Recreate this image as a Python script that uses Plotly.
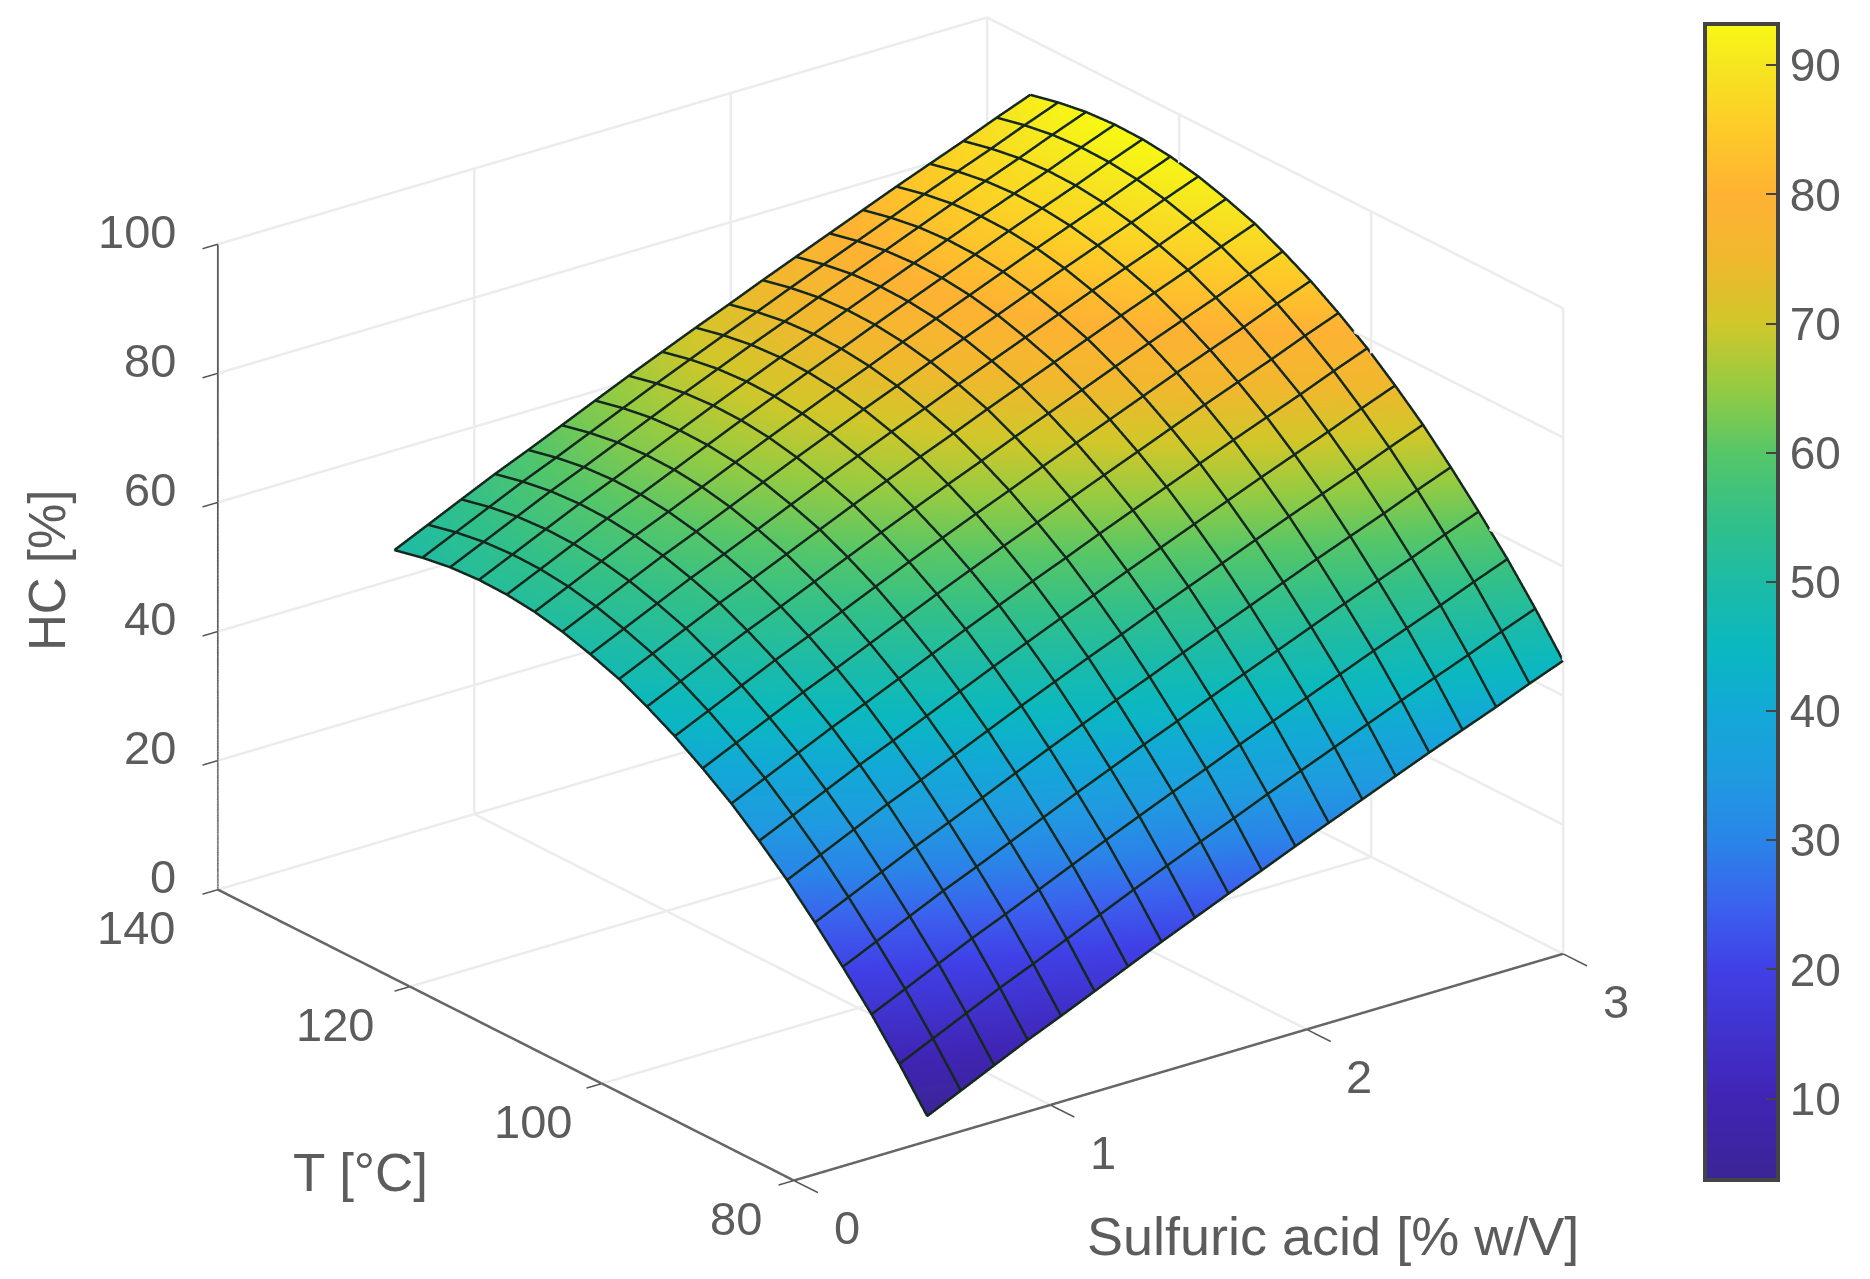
import plotly.graph_objects as go

acid = [0.52,0.651,0.781,0.912,1.042,1.173,1.303,1.434,1.564,1.695,1.825,1.956,2.086,2.217,2.347,2.478,2.608,2.739,2.869,3.0]
temp = [80,82.9,85.8,88.8,91.7,94.6,97.5,100.4,103.4,106.3,109.2,112.1,115.1,118.0,120.9,123.8,126.7,129.7,132.6,135.5]
hc = [
[3.7,6.1,8.5,10.9,13.1,15.4,17.7,20.0,22.2,24.4,26.5,28.7,30.8,32.9,35.0,37.1,39.1,41.1,43.2,45.2],
[9.6,12.0,14.4,16.8,19.0,21.3,23.6,25.9,28.1,30.3,32.4,34.6,36.7,38.8,40.9,43.0,45.0,47.0,49.1,51.1],
[15.1,17.5,19.9,22.3,24.5,26.8,29.1,31.4,33.6,35.8,37.9,40.1,42.2,44.3,46.4,48.5,50.5,52.5,54.6,56.6],
[20.2,22.6,25.0,27.4,29.6,31.9,34.2,36.5,38.7,40.9,43.0,45.2,47.3,49.4,51.5,53.6,55.6,57.6,59.7,61.7],
[24.9,27.3,29.7,32.1,34.3,36.6,38.9,41.2,43.4,45.6,47.7,49.9,52.0,54.1,56.2,58.3,60.3,62.3,64.4,66.4],
[29.3,31.7,34.1,36.5,38.7,41.0,43.3,45.6,47.8,50.0,52.1,54.3,56.4,58.5,60.6,62.7,64.7,66.7,68.8,70.8],
[33.2,35.6,38.0,40.4,42.6,44.9,47.2,49.5,51.7,53.9,56.0,58.2,60.3,62.4,64.5,66.6,68.6,70.6,72.7,74.7],
[36.8,39.2,41.6,44.0,46.2,48.5,50.8,53.1,55.3,57.5,59.6,61.8,63.9,66.0,68.1,70.2,72.2,74.2,76.3,78.3],
[40.0,42.4,44.8,47.2,49.4,51.7,54.0,56.3,58.5,60.7,62.8,65.0,67.1,69.2,71.3,73.4,75.4,77.4,79.5,81.5],
[42.8,45.2,47.6,50.0,52.2,54.5,56.8,59.1,61.3,63.5,65.6,67.8,69.9,72.0,74.1,76.2,78.2,80.2,82.3,84.3],
[45.2,47.6,50.0,52.4,54.6,56.9,59.2,61.5,63.7,65.9,68.0,70.2,72.3,74.4,76.5,78.6,80.6,82.6,84.7,86.7],
[47.3,49.7,52.1,54.5,56.7,59.0,61.3,63.6,65.8,68.0,70.1,72.3,74.4,76.5,78.6,80.7,82.7,84.7,86.8,88.8],
[48.9,51.3,53.7,56.1,58.3,60.6,62.9,65.2,67.4,69.6,71.7,73.9,76.0,78.1,80.2,82.3,84.3,86.3,88.4,90.4],
[50.2,52.6,55.0,57.4,59.6,61.9,64.2,66.5,68.7,70.9,73.0,75.2,77.3,79.4,81.5,83.6,85.6,87.6,89.7,91.7],
[51.1,53.5,55.9,58.3,60.5,62.8,65.1,67.4,69.6,71.8,73.9,76.1,78.2,80.3,82.4,84.5,86.5,88.5,90.6,92.6],
[51.6,54.0,56.4,58.8,61.0,63.3,65.6,67.9,70.1,72.3,74.4,76.6,78.7,80.8,82.9,85.0,87.0,89.0,91.1,93.1],
[51.7,54.1,56.5,58.9,61.1,63.4,65.7,68.0,70.2,72.4,74.5,76.7,78.8,80.9,83.0,85.1,87.1,89.1,91.2,93.2],
[51.4,53.8,56.2,58.6,60.8,63.1,65.4,67.7,69.9,72.1,74.2,76.4,78.5,80.6,82.7,84.8,86.8,88.8,90.9,92.9],
[50.7,53.1,55.5,57.9,60.1,62.4,64.7,67.0,69.2,71.4,73.5,75.7,77.8,79.9,82.0,84.1,86.1,88.1,90.2,92.2],
[49.7,52.1,54.5,56.9,59.1,61.4,63.7,66.0,68.2,70.4,72.5,74.7,76.8,78.9,81.0,83.1,85.1,87.1,89.2,91.2],
]
x_ticks = [0,1,2,3]
y_ticks = [80,100,120,140]
z_ticks = [0,20,40,60,80,100]
colorbar_ticks = [10,20,30,40,50,60,70,80,90]
parula_stops = [
[0,"#3a2596"],[0.07,"#4024b4"],[0.182,"#4040e6"],[0.238,"#3b62ee"],[0.294,"#2a85e8"],
[0.35,"#1f9be0"],[0.406,"#12a9d6"],[0.461,"#0bb8c0"],[0.517,"#1dbba6"],[0.573,"#33c088"],
[0.629,"#56c668"],[0.685,"#95cb42"],[0.741,"#d0c72a"],[0.797,"#f0b82e"],[0.853,"#ffb233"],
[0.91,"#fdcb28"],[0.965,"#f6e620"],[1,"#f8f814"]]

TXT = "#5c5c5c"
FONT = "Liberation Sans"
W, H = 1870, 1279
MESH = "#14281e"
LIFT = 0.2
x0, x1 = x_ticks[0], x_ticks[-1]
y0, y1 = y_ticks[0], y_ticks[-1]
z0, z1 = z_ticks[0], z_ticks[-1]

fig = go.Figure(go.Surface(
    x=acid, y=temp, z=hc, cmin=3.7, cmax=93.2, colorscale=parula_stops,
    lighting=dict(ambient=1, diffuse=0, specular=0, roughness=1, fresnel=0),
    hoverinfo="skip",
    colorbar=dict(
        x=1705/W, xanchor="left", y=(1279-1180)/H, yanchor="bottom",
        lenmode="pixels", len=1156, thicknessmode="pixels", thickness=73,
        tickvals=colorbar_ticks, ticks="inside", ticklen=14, tickcolor="#444", tickwidth=2,
        outlinecolor="#444", outlinewidth=4, tickfont=dict(family=FONT, size=46, color=TXT),
        xpad=0, ypad=0),
))

def lines(segments, color, width):
    for a, b in segments:
        fig.add_trace(go.Scatter3d(x=[a[0], b[0]], y=[a[1], b[1]], z=[a[2], b[2]], mode="lines",
                                   line=dict(color=color, width=width),
                                   hoverinfo="skip", showlegend=False))

# gridlines on the floor and the two back walls
grid = []
for v in x_ticks:
    grid += [((v, y0, z0), (v, y1, z0)), ((v, y1, z0), (v, y1, z1))]
for v in y_ticks:
    grid += [((x0, v, z0), (x1, v, z0)), ((x1, v, z0), (x1, v, z1))]
for v in z_ticks:
    grid += [((x0, y1, v), (x1, y1, v)), ((x1, y0, v), (x1, y1, v))]
lines(grid, "#ececec", 5)

# axis lines and their tick stubs
lines([((x0, y0, z0), (x1, y0, z0)), ((x0, y0, z0), (x0, y1, z0))], "#666666", 5)
lines([((x0, y1, z0), (x0, y1, z1))], "#444444", 3)
lines([((v, y0, z0), (v, y0-2.5, z0)) for v in x_ticks]
      + [((x0, v, z0), (x0-0.06, v, z0)) for v in y_ticks]
      + [((x0, y1, v), (x0-0.06, y1, v)) for v in z_ticks], "#555555", 3)

# mesh lines, one per grid row and one per grid column of the same data
for j, t in enumerate(temp):
    fig.add_trace(go.Scatter3d(x=acid, y=[t]*len(acid), z=[v+LIFT for v in hc[j]], mode="lines",
                               line=dict(color=MESH, width=5), hoverinfo="skip", showlegend=False))
for i, a in enumerate(acid):
    fig.add_trace(go.Scatter3d(x=[a]*len(temp), y=temp, z=[row[i]+LIFT for row in hc], mode="lines",
                               line=dict(color=MESH, width=5), hoverinfo="skip", showlegend=False))

def axis(rng, ticks):
    return dict(range=rng, tickvals=ticks, title=dict(text=""), showbackground=False,
                showgrid=False, zeroline=False, showline=False, ticks="",
                showticklabels=False, showspikes=False)

def note(text, x, y, size, angle=0):
    return dict(text=text, x=x/W, y=1-y/H, xref="paper", yref="paper", showarrow=False,
                xanchor="center", yanchor="middle", textangle=angle,
                font=dict(family=FONT, size=size, color=TXT))

def tick_note(x, y, z, text, xs, ys, anchor="center"):
    return dict(x=x, y=y, z=z, text=str(text), showarrow=False, xanchor=anchor, yanchor="middle",
                xshift=xs, yshift=ys, font=dict(family=FONT, size=47, color=TXT))

y_extra = {80: 14, 100: 3, 120: -3, 140: -10}
labels = ([tick_note(v, y0, z0, v, 53, -47) for v in x_ticks]
          + [tick_note(x0, v, z0, v, -72 + y_extra[v], -38) for v in y_ticks]
          + [tick_note(x0, y1, v, v, -40, 13, "right") for v in z_ticks])

k = 1.6
# the invisible scene box is a little larger than the axes so that edge lines are not clipped
x_pad, y_pad, z_pad = 0.1, 4, 2
fig.update_layout(
    width=W, height=H, margin=dict(l=0, r=0, t=0, b=0), paper_bgcolor="white",
    scene=dict(
        domain=dict(x=[0.001, 0.951], y=[0.063, 1.0]),
        xaxis=axis([x0-x_pad, x1+x_pad], x_ticks),
        yaxis=axis([y0-y_pad, y1+y_pad], y_ticks),
        zaxis=axis([z0-z_pad, z1+z_pad], z_ticks),
        aspectmode="manual",
        aspectratio=dict(x=1.01*k*(x1-x0+2*x_pad)/(x1-x0),
                         y=0.99*k*(y1-y0+2*y_pad)/(y1-y0),
                         z=0.73*k*(z1-z0+2*z_pad)/(z1-z0)),
        annotations=labels,
        camera=dict(projection=dict(type="orthographic"),
                    eye=dict(x=-0.56, y=-0.733, z=0.3857),
                    center=dict(x=0, y=0, z=0), up=dict(x=0, y=0, z=1)),
    ),
    annotations=[
        note("HC [%]", 47, 570, 51, -90),
        note("T [°C]", 360, 1172, 53),
        note("Sulfuric acid [% w/V]", 1333, 1236, 54),
    ],
)
fig.write_html("out.html", config=dict(displayModeBar=False), post_script="document.body.style.margin='0';")
